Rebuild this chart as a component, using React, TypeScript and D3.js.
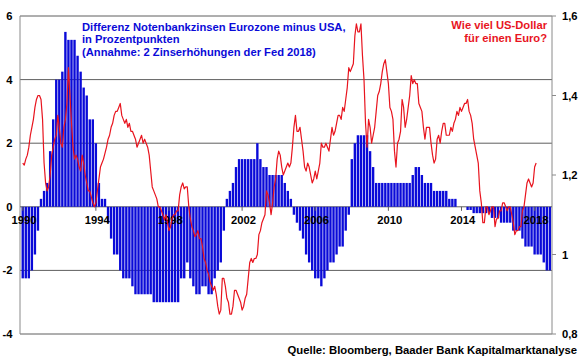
import * as d3 from "d3";

// Differenz Notenbankzinsen Eurozone minus USA, Prozentpunkte (Werte je 2 Monate ab Jan 1990)
const diffStart = 1990;
const diffPerYear = 6;
const rateDiff: number[] = [
  -2.25, -2.25, -2.25, -2.0, -1.5, -0.75, // 1990
  0.25, 0.5, 0.75, 1.75, 2.75, 4.0, // 1991
  4.0, 4.25, 5.5, 5.25, 5.25, 5.25, // 1992
  4.75, 4.25, 3.75, 3.5, 2.75, 2.75, // 1993
  2.0, 0.75, 0.25, 0.25, -0.5, -1.0, // 1994
  -1.5, -1.5, -2.0, -2.25, -2.25, -2.25, // 1995
  -2.5, -2.75, -2.75, -2.75, -2.75, -2.75, // 1996
  -2.75, -3.0, -3.0, -3.0, -3.0, -3.0, // 1997
  -3.0, -3.0, -3.0, -3.0, -2.25, -2.25, // 1998
  -1.75, -2.25, -2.5, -2.75, -2.75, -2.5, // 1999
  -2.5, -2.75, -2.75, -2.25, -2.0, -1.75, // 2000
  -0.75, 0.25, 0.5, 0.75, 1.25, 1.5, // 2001
  1.5, 1.5, 1.5, 1.5, 1.5, 2.0, // 2002
  1.5, 1.25, 1.25, 1.0, 1.0, 1.0, // 2003
  1.0, 1.0, 0.75, 0.5, 0.25, -0.25, // 2004
  -0.5, -0.75, -1.0, -1.5, -1.75, -2.0, // 2005
  -2.25, -2.25, -2.5, -2.25, -2.0, -1.75, // 2006
  -1.75, -1.5, -1.25, -1.25, -0.75, -0.25, // 2007
  1.5, 2.0, 2.25, 2.25, 2.25, 2.25, // 2008
  1.75, 1.25, 0.75, 0.75, 0.75, 0.75, // 2009
  0.75, 0.75, 0.75, 0.75, 0.75, 0.75, // 2010
  0.75, 0.75, 1.0, 1.25, 1.25, 1.0, // 2011
  0.75, 0.75, 0.75, 0.5, 0.5, 0.5, // 2012
  0.5, 0.5, 0.25, 0.25, 0.25, 0.0, // 2013
  0.0, 0.0, -0.1, -0.1, -0.2, -0.2, // 2014
  -0.2, -0.2, -0.2, -0.2, -0.35, -0.35, // 2015
  -0.35, -0.5, -0.5, -0.5, -0.5, -0.75, // 2016
  -0.75, -0.75, -1.0, -1.25, -1.25, -1.25, // 2017
  -1.5, -1.5, -1.5, -1.75, -2.0, -2.0, // 2018
];

// EUR/USD, Monatswerte ab Jan 1990
const fxStart = 1990;
const eurUsd: number[] = [
  1.23, 1.225, 1.24, 1.25, 1.27, 1.3, 1.32, 1.34, 1.37, 1.39, 1.4, 1.4, // 1990
  1.39, 1.34, 1.23, 1.18, 1.16, 1.17, 1.2, 1.25, 1.27, 1.29, 1.3, 1.35, // 1991
  1.32, 1.28, 1.27, 1.32, 1.34, 1.38, 1.47, 1.4, 1.33, 1.27, 1.24, 1.25, // 1992
  1.24, 1.22, 1.21, 1.25, 1.23, 1.2, 1.18, 1.16, 1.16, 1.145, 1.13, 1.12, // 1993
  1.13, 1.16, 1.19, 1.22, 1.23, 1.24, 1.255, 1.27, 1.29, 1.3, 1.32, 1.33, // 1994
  1.35, 1.36, 1.36, 1.37, 1.38, 1.35, 1.34, 1.33, 1.34, 1.32, 1.33, 1.31, // 1995
  1.31, 1.3, 1.29, 1.27, 1.28, 1.29, 1.3, 1.28, 1.29, 1.28, 1.27, 1.25, // 1996
  1.21, 1.17, 1.16, 1.15, 1.14, 1.12, 1.12, 1.11, 1.1, 1.087, 1.1, 1.08, // 1997
  1.06, 1.07, 1.09, 1.1, 1.1, 1.11, 1.11, 1.15, 1.17, 1.18, 1.165, 1.17, // 1998
  1.17, 1.12, 1.09, 1.07, 1.06, 1.045, 1.05, 1.06, 1.04, 1.04, 1.02, 0.99, // 1999
  0.98, 0.96, 0.95, 0.93, 0.92, 0.91, 0.92, 0.9, 0.87, 0.85, 0.86, 0.94, // 2000
  0.94, 0.92, 0.89, 0.88, 0.85, 0.85, 0.87, 0.91, 0.91, 0.9, 0.89, 0.88, // 2001
  0.86, 0.87, 0.89, 0.9, 0.94, 0.98, 0.99, 0.98, 0.99, 0.99, 1.0, 1.05, // 2002
  1.06, 1.08, 1.09, 1.1, 1.16, 1.15, 1.13, 1.1, 1.13, 1.17, 1.19, 1.24, // 2003
  1.26, 1.25, 1.22, 1.2, 1.21, 1.22, 1.23, 1.22, 1.23, 1.27, 1.32, 1.35, // 2004
  1.31, 1.31, 1.32, 1.29, 1.26, 1.22, 1.21, 1.23, 1.22, 1.2, 1.18, 1.19, // 2005
  1.21, 1.19, 1.21, 1.23, 1.28, 1.27, 1.27, 1.28, 1.27, 1.26, 1.29, 1.32, // 2006
  1.3, 1.31, 1.33, 1.35, 1.35, 1.34, 1.37, 1.36, 1.39, 1.42, 1.47, 1.46, // 2007
  1.47, 1.48, 1.55, 1.58, 1.56, 1.56, 1.58, 1.5, 1.44, 1.33, 1.27, 1.34, // 2008
  1.32, 1.28, 1.3, 1.32, 1.36, 1.4, 1.41, 1.43, 1.46, 1.48, 1.49, 1.46, // 2009
  1.43, 1.37, 1.36, 1.34, 1.26, 1.22, 1.28, 1.29, 1.31, 1.39, 1.37, 1.32, // 2010
  1.34, 1.37, 1.4, 1.45, 1.43, 1.44, 1.43, 1.43, 1.38, 1.37, 1.36, 1.32, // 2011
  1.29, 1.32, 1.32, 1.32, 1.28, 1.25, 1.23, 1.24, 1.29, 1.3, 1.28, 1.31, // 2012
  1.33, 1.33, 1.3, 1.3, 1.3, 1.32, 1.31, 1.33, 1.34, 1.36, 1.35, 1.37, // 2013
  1.36, 1.37, 1.38, 1.38, 1.39, 1.36, 1.35, 1.33, 1.29, 1.27, 1.25, 1.23, // 2014
  1.16, 1.13, 1.08, 1.08, 1.12, 1.12, 1.1, 1.11, 1.12, 1.12, 1.07, 1.09, // 2015
  1.09, 1.11, 1.11, 1.13, 1.13, 1.12, 1.11, 1.12, 1.12, 1.1, 1.08, 1.05, // 2016
  1.06, 1.06, 1.07, 1.07, 1.11, 1.12, 1.15, 1.18, 1.19, 1.18, 1.17, 1.18, // 2017
  1.22, 1.23, // 2018
];

const yearTicks = [1990, 1994, 1998, 2002, 2006, 2010, 2014, 2018];
const leftTicks = [-4, -2, 0, 2, 4, 6];
const gridTicks = [-4, -2, 2, 4, 6];
const rightTicks = [0.8, 1, 1.2, 1.4, 1.6];

const titleLines = [
  "Differenz Notenbankzinsen Eurozone minus USA,",
  "in Prozentpunkten",
  "(Annahme: 2 Zinserhöhungen der Fed 2018)",
];
const fxTitleLines = ["Wie viel US-Dollar", "für einen Euro?"];
const sourceText = "Quelle: Bloomberg, Baader Bank Kapitalmarktanalyse";

const W = 580;
const H = 358;
const plot = { left: 20, right: 552, top: 16, bottom: 334 };
const font = "'Liberation Sans', Arial, sans-serif";
const BLUE = "#0a0ad8";
const RED = "#e8141e";

export default function App() {
  const x = d3.scaleLinear().domain([1989.85, 2018.95]).range([plot.left, plot.right]);
  const yL = d3.scaleLinear().domain([-4, 6]).range([plot.bottom, plot.top]);
  const yR = d3.scaleLinear().domain([0.8, 1.6]).range([plot.bottom, plot.top]);

  const step = 1 / diffPerYear;
  const barW = (x(step) - x(0)) * 0.78;

  const fxLine = d3
    .line<number>()
    .x((_, i) => x(fxStart + i / 12))
    .y((d) => yR(d));

  const fmtR = (d: number) => String(d).replace(".", ",");

  return (
    <svg
      width={W}
      height={H}
      style={{ position: "absolute", left: 0, top: 0, background: "#fff" }}
      fontFamily={font}
      fontWeight="bold"
    >
      {/* gridlines */}
      {gridTicks.map((t) => (
        <line key={t} x1={plot.left} x2={plot.right} y1={yL(t)} y2={yL(t)} stroke="#5f5f5f" strokeWidth={1} />
      ))}
      <line x1={plot.left} x2={plot.left} y1={plot.top} y2={plot.bottom} stroke="#8a8a8a" />
      <line x1={plot.right} x2={plot.right} y1={plot.top} y2={plot.bottom} stroke="#8a8a8a" />
      <line x1={plot.left} x2={plot.right} y1={yL(0)} y2={yL(0)} stroke="#5f5f5f" />

      {/* bars */}
      <g fill={BLUE}>
        {rateDiff.map((v, i) => {
          const t = diffStart + i * step;
          const x0 = x(t) - 1.2;
          return (
            <rect
              key={i}
              x={x0}
              width={barW}
              y={Math.min(yL(v), yL(0))}
              height={Math.abs(yL(v) - yL(0))}
            />
          );
        })}
      </g>

      {/* year ticks + labels */}
      {yearTicks.map((yr) => (
        <g key={yr}>
          <line x1={x(yr)} x2={x(yr)} y1={yL(0)} y2={yL(0) + 4} stroke="#5f5f5f" />
          <text x={x(yr) + 1.3} y={223.5} fontSize={11.2} textAnchor="middle" fill="#000">
            {yr}
          </text>
        </g>
      ))}

      {/* EUR/USD line */}
      <path d={fxLine(eurUsd) ?? ""} fill="none" stroke={RED} strokeWidth={1.2} strokeLinejoin="round" />

      {/* left axis labels */}
      {leftTicks.map((t) => (
        <text key={t} x={12.5} y={yL(t)} dy="0.36em" fontSize={11.2} textAnchor="end" fill="#000">
          {t}
        </text>
      ))}

      {/* right axis */}
      {rightTicks.map((t) => (
        <g key={t}>
          <line x1={plot.right} x2={plot.right + 4} y1={yR(t)} y2={yR(t)} stroke="#8a8a8a" />
          <text x={562} y={yR(t)} dy="0.36em" fontSize={11.2} fill="#000">
            {fmtR(t)}
          </text>
        </g>
      ))}

      {/* titles */}
      {titleLines.map((s, i) => (
        <text key={s} x={82} y={30.5 + i * 12.5} fontSize={11.2} fill={BLUE}>
          {s}
        </text>
      ))}
      {fxTitleLines.map((s, i) => (
        <text key={s} x={547} y={28.5 + i * 13} fontSize={11.2} fill={RED} textAnchor="end">
          {s}
        </text>
      ))}
      <text x={577} y={353.5} fontSize={11.3} textAnchor="end" fill="#000">
        {sourceText}
      </text>
    </svg>
  );
}
